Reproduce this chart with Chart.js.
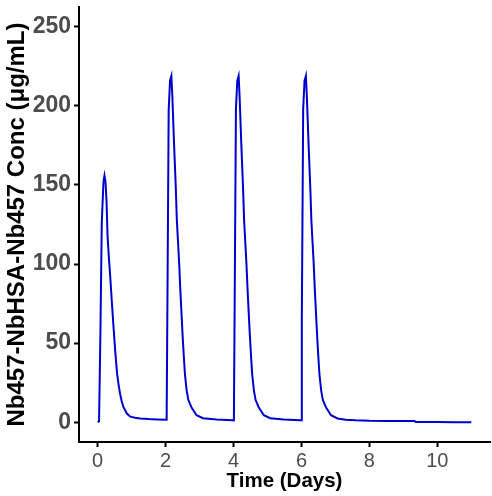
<!DOCTYPE html>
<html>
<head>
<meta charset="utf-8">
<script src="https://cdn.jsdelivr.net/npm/chart.js@4"></script>
<style>
  html, body { margin: 0; padding: 0; background: #fff; }
  #wrap { width: 492px; height: 496px; position: relative; }
</style>
</head>
<body>
<div id="wrap"><canvas id="pkChart" width="492" height="496"></canvas></div>
<script>
// Time in days and concentration (ug/mL)
const timeDays = [
  0.00, 0.04, 0.08, 0.12, 0.17, 0.20, 0.23, 0.26, 0.29, 0.33, 0.37, 0.42, 0.47,
  0.52, 0.57, 0.62, 0.66, 0.71, 0.76, 0.86, 0.96, 1.10, 1.25, 1.50, 1.75, 2.03,
  2.05, 2.09, 2.13, 2.17, 2.20, 2.25, 2.30, 2.33, 2.37, 2.40, 2.43, 2.46, 2.50,
  2.54, 2.57, 2.62, 2.67, 2.76, 2.91, 3.10, 3.50, 3.97, 4.01,
  4.03, 4.07, 4.11, 4.15, 4.18, 4.23, 4.28, 4.31, 4.35, 4.38, 4.41, 4.44, 4.48,
  4.52, 4.55, 4.60, 4.65, 4.74, 4.89, 5.08, 5.48, 5.95, 5.99,
  6.01, 6.05, 6.09, 6.13, 6.16, 6.21, 6.26, 6.29, 6.33, 6.36, 6.39, 6.42, 6.46,
  6.50, 6.53, 6.58, 6.63, 6.72, 6.87, 7.06, 7.30, 7.60, 8.00, 8.50, 9.00, 9.33,
  9.36, 10.00, 10.50, 11.00
];
const concValues = [
  0, 0.5, 56, 126, 152, 156, 152, 140, 118, 104, 92, 75, 59,
  44, 31, 23, 18, 13, 9.5, 5.5, 3.5, 2.8, 2.4, 2.0, 1.8, 1.6,
  65, 197, 216, 219, 205, 175, 148, 128, 112, 100, 85, 72, 55,
  40, 30, 20, 14, 9.5, 4.4, 2.5, 1.8, 1.3, 1.2,
  66, 198, 216, 219, 205, 175, 148, 128, 112, 100, 85, 72, 55,
  40, 30, 20, 14, 9.5, 4.4, 2.5, 1.8, 1.3, 1.2,
  66, 198, 216, 219, 205, 175, 148, 128, 112, 100, 85, 72, 55,
  40, 30, 20, 14, 9.5, 4.4, 2.4, 1.6, 1.2, 0.9, 0.8, 0.7, 0.7,
  0.1, 0.1, 0.05, 0
];
const xTicks = [0, 2, 4, 6, 8, 10];
const yTicks = [0, 50, 100, 150, 200, 250];

const points = timeDays.map((t, i) => ({ x: t, y: concValues[i] }));

const ctx = document.getElementById("pkChart");

window.pkChart = new Chart(ctx, {
  type: "scatter",
  data: {
    datasets: [
      {
        data: points,
        showLine: true,
        borderColor: "#0000CD",
        backgroundColor: "#0000CD",
        borderWidth: 2,
        pointRadius: 0,
        tension: 0,
      },
    ],
  },
  options: {
    responsive: false,
    animation: false,
    layout: { padding: { top: 7, right: 2, left: 0, bottom: 0 } },
    plugins: {
      legend: { display: false },
      tooltip: { enabled: false },
    },
    scales: {
      x: {
        type: "linear",
        min: -0.55,
        max: 11.55,
        afterBuildTicks: (axis) => {
          axis.ticks = xTicks.map((v) => ({ value: v }));
        },
        afterFit: (axis) => {
          axis.height = 54;
          axis.paddingLeft = 0;
          axis.paddingRight = 0;
        },
        grid: {
          display: true,
          drawOnChartArea: false,
          drawTicks: true,
          tickLength: 5,
          tickWidth: 2,
          color: "#000",
        },
        border: { display: true, color: "#000", width: 2 },
        ticks: {
          color: "#4D4D4D",
          padding: 2,
          font: { family: "Liberation Sans", size: 20 },
        },
        title: {
          display: true,
          text: "Time (Days)",
          color: "#000",
          padding: { top: 0, bottom: 2 },
          font: { family: "Liberation Sans", size: 20.5, weight: "bold" },
        },
      },
      y: {
        type: "linear",
        min: -12.5,
        max: 262.5,
        afterBuildTicks: (axis) => {
          axis.ticks = yTicks.map((v) => ({ value: v }));
        },
        afterFit: (axis) => {
          axis.width = 79;
          axis.paddingTop = 0;
          axis.paddingBottom = 0;
        },
        grid: {
          display: true,
          drawOnChartArea: false,
          drawTicks: true,
          tickLength: 5,
          tickWidth: 2,
          color: "#000",
        },
        border: { display: true, color: "#000", width: 2 },
        ticks: {
          color: "#4D4D4D",
          padding: 3,
          font: { family: "Liberation Sans", size: 23, weight: "bold" },
        },
        title: {
          display: true,
          text: "Nb457-NbHSA-Nb457 Conc (μg/mL)",
          color: "#000",
          padding: { top: 3, bottom: 0 },
          font: { family: "Liberation Sans", size: 24, weight: "bold" },
        },
      },
    },
  },
});
</script>
</body>
</html>
